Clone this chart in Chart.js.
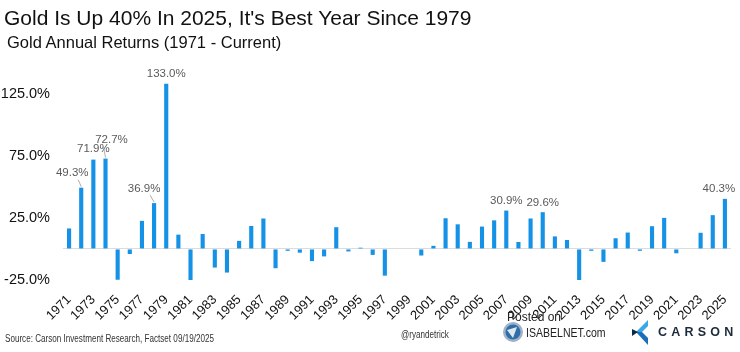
<!DOCTYPE html>
<html><head><meta charset="utf-8">
<script src="https://cdn.jsdelivr.net/npm/chart.js@4.4.1/dist/chart.umd.min.js"></script>
<style>
html,body{margin:0;padding:0;background:#fff;}
#wrap{position:relative;width:740px;height:352px;overflow:hidden;font-family:"Liberation Sans",Arial,sans-serif;}
#c{position:absolute;left:0;top:0;}
.t{position:absolute;white-space:nowrap;}
.n{transform:scaleX(0.81);transform-origin:0 50%;}
#title{left:4px;top:6px;font-size:21px;color:#111;}
#sub{left:7px;top:33px;font-size:16.5px;color:#111;}
#src{left:5px;top:333px;font-size:10px;color:#333;}
#ryan{left:401px;top:329px;font-size:10px;color:#333;}
#posted{left:507px;top:310px;font-size:12px;color:#222;}
#isabel{left:526px;top:325px;font-size:13px;color:#222;}
#carson{left:658px;top:325px;font-size:12.5px;font-weight:bold;color:#1c2a3a;letter-spacing:4.2px;}
</style></head>
<body>
<div id="wrap">
<canvas id="c" width="740" height="352"></canvas>
<div class="t" id="title">Gold Is Up 40% In 2025, It's Best Year Since 1979</div>
<div class="t" id="sub">Gold Annual Returns (1971 - Current)</div>
<div class="t n" id="src">Source: Carson Investment Research, Factset 09/19/2025</div>
<div class="t n" id="ryan">@ryandetrick</div>
<svg style="position:absolute;left:502px;top:321px" width="22" height="22" viewBox="0 0 22 22">
<circle cx="11" cy="11" r="10" fill="#9fb3c8"/><circle cx="11" cy="11" r="7.5" fill="#2f6ea8"/>
<path d="M5 9 L15 6 L11 17 Z" fill="#dfe8f1"/></svg>
<div class="t" id="posted">Posted on</div>
<div class="t n" id="isabel">ISABELNET.com</div>
<svg style="position:absolute;left:632px;top:320px" width="18" height="26" viewBox="0 0 18 26">
<polygon points="16,0 4,12 10,12 16,6" fill="#3aa7e6"/>
<polygon points="4,12 16,25 16,18 10,12" fill="#1a6fb8"/>
<polygon points="0,9 6,12 0,16" fill="#0d2a45"/></svg>
<div class="t" id="carson">CARSON</div>
</div>
<script>
const years = [];
for (let y = 1971; y <= 2025; y++) years.push(String(y));
const returns = [
 16.5, 49.3, 71.9, 72.7, -24.8, -4.1, 22.6, 36.9, 133.0, 11.5,
 -32.6, 12.0, -15.0, -19.0, 6.5, 18.5, 24.5, -15.5, -1.5, -3.0,
 -9.8, -6.0, 17.5, -2.0, 1.0, -4.8, -21.5, 0, 0, -5.3,
 2.5, 24.7, 19.8, 5.7, 18.0, 23.0, 30.9, 5.6, 24.5, 29.6,
 10.1, 7.2, -28.3, -1.5, -10.4, 8.6, 13.2, -1.5, 18.3, 25.0,
 -3.5, 0, 13.0, 27.2, 40.3
];
const labelled = {"1972":"49.3%","1973":"71.9%","1974":"72.7%","1978":"36.9%","1979":"133.0%","2007":"30.9%","2010":"29.6%","2025":"40.3%"};
const yTicks = [-25, 25, 75, 125];

// label placement offsets (style only): [dx, dy from bar top, leader?]
const labelPos = {
 "1972":[-9,-9,true], "1973":[0,-5,false], "1974":[6,-13,true], "1978":[-10,-9,true],
 "1979":[0,-4,false], "2007":[0,-4,false], "2010":[0,-4,false], "2025":[-6,-4,false]
};

const labelPlugin = {
 id:'vlabels',
 afterDatasetsDraw(chart){
  const ctx = chart.ctx;
  const meta = chart.getDatasetMeta(0);
  ctx.save();
  ctx.font = '11.5px "Liberation Sans", Arial, sans-serif';
  ctx.fillStyle = '#5a5a5a';
  ctx.textAlign = 'center';
  ctx.textBaseline = 'bottom';
  chart.data.labels.forEach((lab,i)=>{
   if(!labelled[lab]) return;
   const el = meta.data[i];
   const p = labelPos[lab];
   const lx = el.x + p[0], ly = el.y + p[1];
   ctx.fillText(labelled[lab], lx, ly);
   if(p[2]){
    ctx.strokeStyle = '#999'; ctx.lineWidth = 0.8;
    ctx.beginPath();
    const sx = p[0] < 0 ? lx + 6 : lx - 8;
    ctx.moveTo(sx, ly + 1);
    ctx.lineTo(el.x, el.y - 1);
    ctx.stroke();
   }
  });
  ctx.restore();
 }
};

new Chart(document.getElementById('c'), {
 type:'bar',
 data:{labels:years, datasets:[{data:returns, backgroundColor:'#1592e6', barPercentage:0.34, categoryPercentage:1.0}]},
 options:{
  responsive:false, animation:false,
  layout:{padding:{top:75, right:8, left:0, bottom:0}},
  plugins:{legend:{display:false}, tooltip:{enabled:false}},
  scales:{
   x:{
    grid:{display:false}, border:{display:false},
    ticks:{autoSkip:false, maxRotation:45, minRotation:45, padding:4, color:'#111',
      font:{size:13, family:'"Liberation Sans", Arial, sans-serif'},
      callback:function(v,i){ return i % 2 === 0 ? this.getLabelForValue(v) : ''; }},
    afterFit:(s)=>{ s.height = 72; }
   },
   y:{
    min:-25, max:140,
    grid:{color:(c)=> c.tick && c.tick.value === 0 ? '#dcdcdc' : 'rgba(0,0,0,0)', drawTicks:false},
    border:{display:false},
    afterBuildTicks:(s)=>{ s.ticks = [-25,0,25,75,125].map(v=>({value:v})); },
    ticks:{padding:13, color:'#111', font:{size:14.5, family:'"Liberation Sans", Arial, sans-serif'},
      callback:(v)=> yTicks.includes(v) ? v.toFixed(1)+'%' : ''},
    afterFit:(s)=>{ s.width = 63; }
   }
  }
 },
 plugins:[labelPlugin]
});
</script>
</body></html>
